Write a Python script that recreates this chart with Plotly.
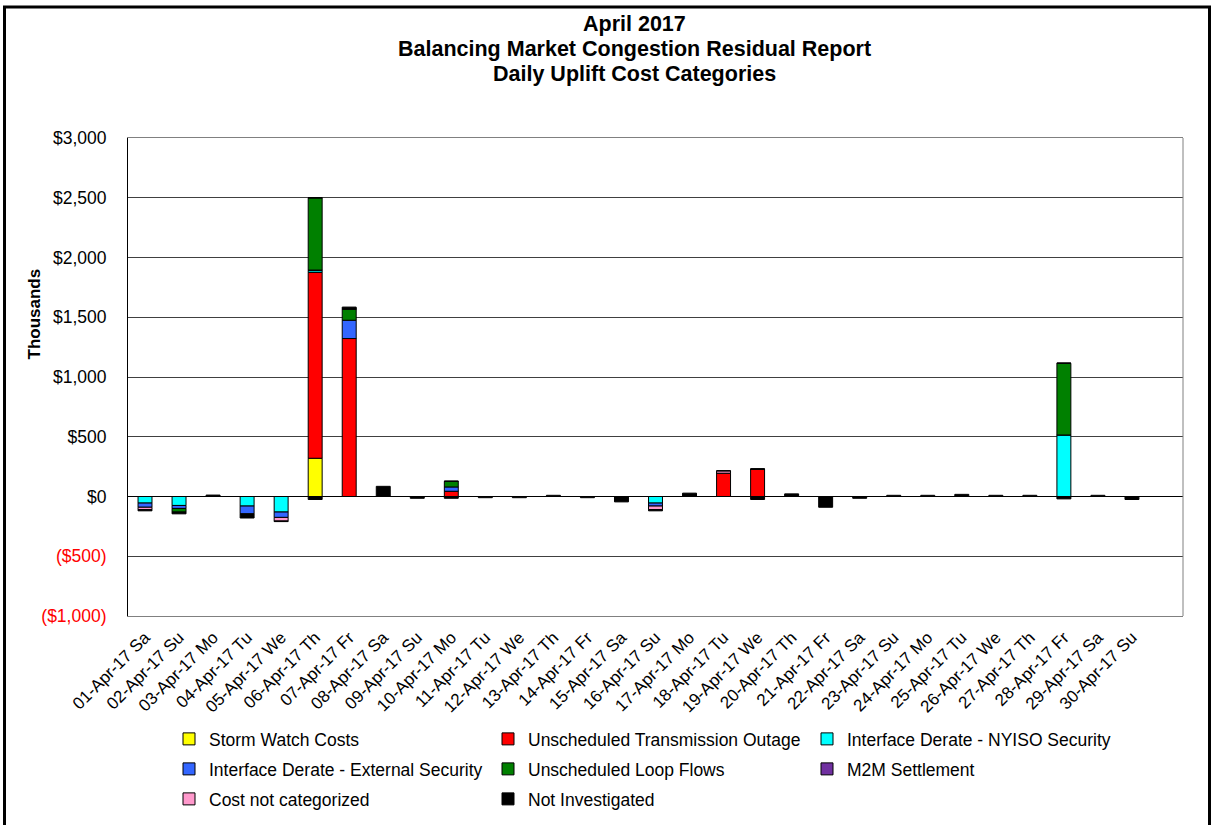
import plotly.graph_objects as go

days = ["01-Apr-17 Sa", "02-Apr-17 Su", "03-Apr-17 Mo", "04-Apr-17 Tu", "05-Apr-17 We",
        "06-Apr-17 Th", "07-Apr-17 Fr", "08-Apr-17 Sa", "09-Apr-17 Su", "10-Apr-17 Mo",
        "11-Apr-17 Tu", "12-Apr-17 We", "13-Apr-17 Th", "14-Apr-17 Fr", "15-Apr-17 Sa",
        "16-Apr-17 Su", "17-Apr-17 Mo", "18-Apr-17 Tu", "19-Apr-17 We", "20-Apr-17 Th",
        "21-Apr-17 Fr", "22-Apr-17 Sa", "23-Apr-17 Su", "24-Apr-17 Mo", "25-Apr-17 Tu",
        "26-Apr-17 We", "27-Apr-17 Th", "28-Apr-17 Fr", "29-Apr-17 Sa", "30-Apr-17 Su"]

# values in $ thousands
storm_watch = [0, 0, 0, 0, 0, 320, 0, 0, 0, 0, 0, 0, 0, 0, 0,
               0, 0, 0, 0, 0, 0, 0, 0, 0, 0, 0, 0, 0, 0, 0]
unsched_outage = [0, 0, 0, 0, 0, 1555, 1322, 0, 0, 44, 0, 0, 0, 0, 0,
                  0, 0, 195, 228, 0, 0, 0, 0, 0, 0, 0, 0, 0, 0, 0]
nyiso_security = [-55, -75, 0, -80, -130, 15, 0, 0, 0, 0, 0, 0, 0, 0, 0,
                  -55, 0, 0, 0, 0, 0, 0, 0, 0, 0, 0, 0, 515, 0, 0]
external_security = [-35, -25, 0, -65, -45, 5, 153, 0, 0, 36, 0, 0, 0, 0, 0,
                      -25, 0, 0, 0, 0, 0, 0, 0, 0, 0, 0, 0, 0, 0, 0]
loop_flows = [0, -30, 0, 0, 0, 605, 95, 0, 0, 47, 0, 0, 0, 0, 0,
              0, 0, 0, 0, 0, 0, 0, 0, 0, 0, 0, 0, 600, 0, 0]
m2m_settlement = [0, 0, 0, 0, 0, 0, 0, 0, 0, 0, 0, 0, 0, 0, 0,
                  0, 0, 0, 0, 0, 0, 0, 0, 0, 0, 0, 0, 0, 0, 0]
not_categorized = [-20, 0, 0, 0, -30, 0, 0, 0, 0, 0, 0, 0, 0, 0, 0,
                   -30, 0, 20, 0, 0, 0, 0, 0, 0, 0, 0, 0, 0, 0, 0]
not_investigated = [-10, -15, 12, -35, -5, -25, 15, 85, -15, -15, -10, -10, 10, -10, -45,
                    -10, 28, 0, -25, 22, -90, -15, 10, 10, 18, 10, 10, -20, 10, -25]

series = [
    ("Storm Watch Costs", storm_watch, "#FFFF00", "legend"),
    ("Unscheduled Transmission Outage", unsched_outage, "#FF0000", "legend"),
    ("Interface Derate - NYISO Security", nyiso_security, "#00FFFF", "legend"),
    ("Interface Derate - External Security", external_security, "#3366FF", "legend2"),
    ("Unscheduled Loop Flows", loop_flows, "#008000", "legend2"),
    ("M2M Settlement", m2m_settlement, "#7030A0", "legend2"),
    ("Cost not categorized", not_categorized, "#FF99CC", "legend3"),
    ("Not Investigated", not_investigated, "#000000", "legend3"),
]

y_tickvals = [-1000, -500, 0, 500, 1000, 1500, 2000, 2500, 3000]
y_ticktext = ["<span style='color:#FF0000'>($1,000)</span>",
              "<span style='color:#FF0000'>($500)</span>",
              "$0", "$500", "$1,000", "$1,500", "$2,000", "$2,500", "$3,000"]

title_lines = ["April 2017", "Balancing Market Congestion Residual Report",
               "Daily Uplift Cost Categories"]

FONT = "Arial, 'Liberation Sans', sans-serif"

fig = go.Figure()
x_idx = list(range(len(days)))
for name, vals, color, leg in series:
    fig.add_trace(go.Bar(
        x=x_idx, y=vals, name=name, width=0.41,
        marker=dict(color=color, line=dict(color="#000000", width=1)),
        legend=leg,
    ))

# plot area pixels: x 128..1183, y 138..616
L, R, T, B = 128, 1183, 138, 616
W, H = 1212, 825
pw, ph = R - L, B - T

def px_x(p):
    return (p - L) / pw

def px_y(p):
    return (B - p) / ph

leg_common = dict(orientation="h", entrywidth=274, entrywidthmode="pixels",
                  font=dict(family=FONT, size=17.5, color="#000000"),
                  bgcolor="rgba(0,0,0,0)", xanchor="left", yanchor="middle",
                  itemwidth=30, traceorder="normal")

annotations = []
for txt, yc in zip(title_lines, [24, 49, 74]):
    annotations.append(dict(text="<b>" + txt + "</b>", x=px_x(634), y=px_y(yc),
                            xref="paper", yref="paper", xanchor="center", yanchor="middle",
                            showarrow=False,
                            font=dict(family=FONT, size=21.5, color="#000000")))
annotations.append(dict(text="<b>Thousands</b>", textangle=-90, x=px_x(22), y=px_y(314),
                        xref="paper", yref="paper", showarrow=False,
                        font=dict(family=FONT, size=17, color="#000000")))

fig.update_layout(
    width=W, height=H,
    margin=dict(l=L, r=W - R, t=T, b=H - B, autoexpand=False),
    paper_bgcolor="#FFFFFF", plot_bgcolor="#FFFFFF",
    barmode="relative",
    showlegend=True,
    xaxis=dict(tickmode="array", tickvals=x_idx, ticktext=days, tickangle=-45,
               range=[-0.5, 30.5], showgrid=False, zeroline=False, automargin=False,
               showline=True, linecolor="#808080", linewidth=1, mirror=True,
               ticks="", ticklabelstandoff=4,
               tickfont=dict(family=FONT, size=17, color="#000000")),
    yaxis=dict(tickmode="array", tickvals=y_tickvals, ticktext=y_ticktext,
               range=[-1000, 3000], showgrid=True, gridcolor="#404040", gridwidth=1,
               zeroline=True, zerolinecolor="#000000", zerolinewidth=1, automargin=False,
               showline=True, linecolor="#000000", linewidth=1, ticks="",
               ticklabelstandoff=17,
               tickfont=dict(family=FONT, size=17.5, color="#000000")),
    legend=dict(x=px_x(169), y=px_y(739), **leg_common),
    legend2=dict(x=px_x(169), y=px_y(769), **leg_common),
    legend3=dict(x=px_x(169), y=px_y(799), **leg_common),
    annotations=annotations,
    shapes=[
        dict(type="rect", xref="paper", yref="paper",
             x0=px_x(4.5), x1=px_x(1209.5), y0=px_y(840), y1=px_y(7),
             line=dict(color="#000000", width=3), fillcolor="rgba(0,0,0,0)", layer="below"),
        dict(type="line", xref="paper", yref="paper", x0=1, x1=1, y0=0, y1=1,
             line=dict(color="#808080", width=1)),
    ],
)

fig.write_html("out.html", config={"displayModeBar": False},
               post_script="document.body.style.margin='0px';")
